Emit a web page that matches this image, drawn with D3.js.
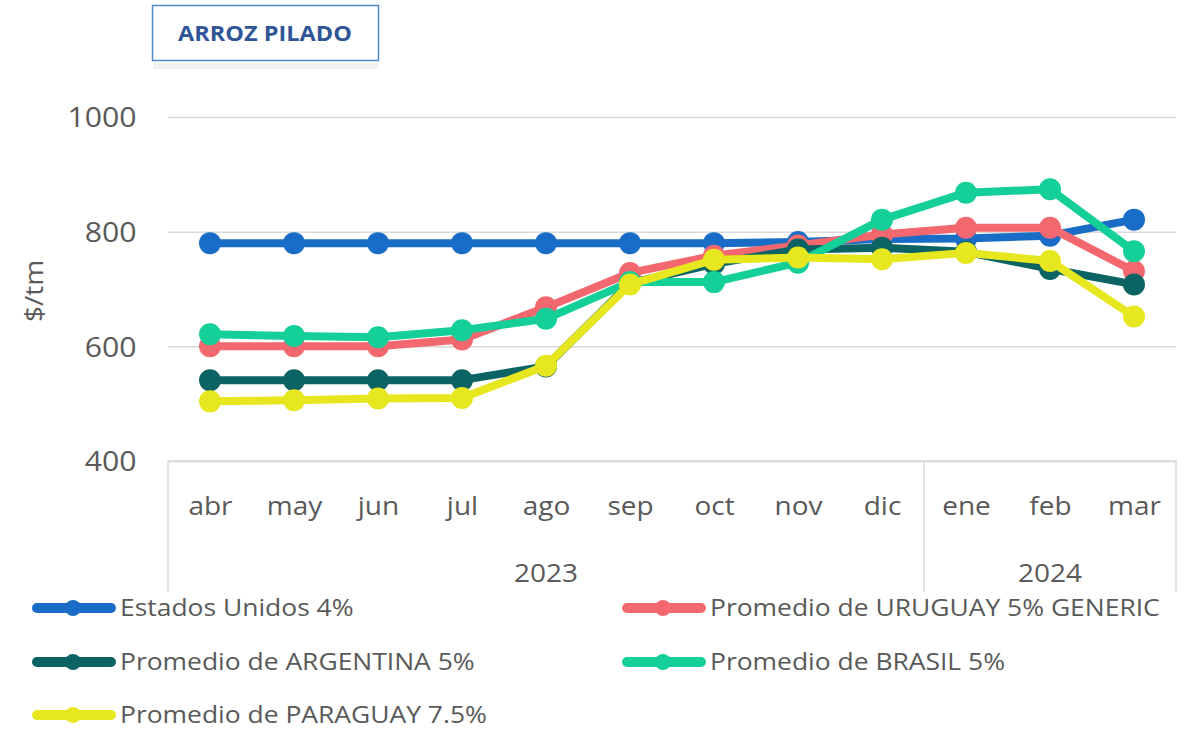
<!DOCTYPE html>
<html>
<head>
<meta charset="utf-8">
<script src="https://cdn.jsdelivr.net/npm/d3@7"></script>
<style>
  body { margin: 0; background: #fff; }
  text { font-family: "Open Sans", sans-serif; }
</style>
</head>
<body>
<div id="chart"></div>
<script>
// data
const months = ["abr", "may", "jun", "jul", "ago", "sep", "oct", "nov", "dic", "ene", "feb", "mar"];
const years = ["2023", "2024"];
const monthsPerYear = [9, 3];
const yTicks = [400, 600, 800, 1000];

const estadosUnidos = [780, 780, 780, 780, 780, 780, 780, 782, 787, 788, 793, 821];
const uruguay       = [600, 600, 600, 612, 668, 728, 758, 776, 795, 807, 807, 731];
const argentina     = [541, 541, 541, 541, 565, 710, 744, 769, 772, 765, 735, 708];
const brasil        = [621, 618, 616, 628, 648, 712, 712, 746, 821, 868, 874, 766];
const paraguay      = [504, 506, 509, 510, 566, 708, 751, 755, 752, 763, 749, 652];

const seriesNames = ["Estados Unidos 4%", "Promedio de URUGUAY 5% GENERIC", "Promedio de ARGENTINA 5%",
                     "Promedio de BRASIL 5%", "Promedio de PARAGUAY 7.5%"];
const seriesColors = ["#1a6dc6", "#f3686f", "#0c6363", "#14cf97", "#e7e71f"];

let series = [estadosUnidos, uruguay, argentina, brasil, paraguay].map((values, i) => ({
  name: seriesNames[i], color: seriesColors[i], values: values
}));

let width = 1196,
    height = 731,
    plotLeft = 168,
    plotRight = 1176,
    plotTop = 117,
    plotBottom = 461,
    catBottom = 592,
    textColor = "#595959",
    gridColor = "#d9d9d9",
    sx = 1.12; // the source text is a little wider than our fonts

let svg = d3.select("#chart").append("svg")
    .attr("width", width)
    .attr("height", height);

/* Scale */
let xScale = d3.scalePoint().domain(months).range([plotLeft, plotRight]).padding(0.5);
let yScale = d3.scaleLinear().domain([400, 1000]).range([plotBottom, plotTop]);

/* Title box */
svg.append("rect")
    .attr("x", 153).attr("y", 63).attr("width", 225).attr("height", 6)
    .attr("fill", "#f2f2f2");
svg.append("rect")
    .attr("x", 152.5).attr("y", 5.5).attr("width", 226).attr("height", 55)
    .attr("fill", "#fff")
    .attr("stroke", "#4f88c6")
    .attr("stroke-width", 1.5);
svg.append("text")
    .attr("transform", `translate(265,41) scale(${sx},1)`)
    .attr("text-anchor", "middle")
    .attr("font-size", 21)
    .attr("font-weight", "bold")
    .attr("fill", "#2f5597")
    .text("ARROZ PILADO");

/* Gridlines */
svg.append("g")
    .attr("class", "grid")
    .attr("transform", `translate(${plotLeft},0)`)
    .call(d3.axisLeft(yScale).tickValues(yTicks).tickSize(-(plotRight - plotLeft)).tickFormat(""))
    .call(g => g.select(".domain").remove())
    .call(g => g.selectAll("line").attr("stroke", gridColor).attr("stroke-width", 1.5));

/* Y axis labels */
svg.append("g")
    .attr("class", "y axis")
    .attr("transform", `translate(${plotLeft},0)`)
    .call(d3.axisLeft(yScale).tickValues(yTicks).tickFormat(d3.format("d")).tickSize(0).tickPadding(28))
    .call(g => g.select(".domain").remove())
    .call(g => g.selectAll("text")
        .attr("font-family", "Open Sans, sans-serif")
        .attr("font-size", 27)
        .attr("fill", textColor)
        .attr("dy", "0.36em")
        .attr("transform", `scale(${sx},1)`));

svg.append("text")
    .attr("transform", `translate(43,291) rotate(-90) scale(${sx},1)`)
    .attr("text-anchor", "middle")
    .attr("font-size", 25)
    .attr("fill", textColor)
    .text("$/tm");

/* Category axis: month row and year row */
svg.append("g")
    .attr("class", "x axis")
    .attr("transform", `translate(0,${plotBottom})`)
    .call(d3.axisBottom(xScale).tickSize(0).tickPadding(0))
    .call(g => g.select(".domain").remove())
    .call(g => g.selectAll("text")
        .attr("font-family", "Open Sans, sans-serif")
        .attr("font-size", 25)
        .attr("fill", textColor)
        .attr("dy", 0)
        .attr("y", 54)
        .attr("transform", `scale(${sx},1)`));

let bounds = [0];
monthsPerYear.forEach((n, i) => bounds.push(bounds[i] + n));
let step = xScale.step();
let cat = svg.append("g").attr("class", "cat-lines");
cat.append("line")
    .attr("x1", plotLeft).attr("x2", plotRight + 1)
    .attr("y1", plotBottom).attr("y2", plotBottom)
    .attr("stroke", gridColor).attr("stroke-width", 1.5);
bounds.forEach(b => {
  let x = plotLeft + b * step;
  cat.append("line")
      .attr("x1", x).attr("x2", x)
      .attr("y1", plotBottom).attr("y2", catBottom)
      .attr("stroke", gridColor).attr("stroke-width", 1.5);
});
years.forEach((yr, i) => {
  let cx = plotLeft + (bounds[i] + bounds[i + 1]) / 2 * step;
  svg.append("text")
      .attr("transform", `translate(${cx},582) scale(${sx},1)`)
      .attr("text-anchor", "middle")
      .attr("font-size", 25)
      .attr("fill", textColor)
      .text(yr);
});

/* Lines */
let line = d3.line()
    .x((d, i) => xScale(months[i]))
    .y(d => yScale(d));

let lines = svg.append("g").attr("class", "lines");
series.forEach(s => {
  let g = lines.append("g").attr("class", "line-group");
  g.append("path")
      .attr("d", line(s.values))
      .attr("fill", "none")
      .attr("stroke", s.color)
      .attr("stroke-width", 8)
      .attr("stroke-linejoin", "round");
  g.selectAll("circle")
      .data(s.values).enter()
      .append("circle")
      .attr("cx", (d, i) => xScale(months[i]))
      .attr("cy", d => yScale(d))
      .attr("r", 11)
      .attr("fill", s.color);
});

/* Legend */
let legendPos = [[33, 608], [623, 608], [33, 662], [623, 662], [33, 715]];
let legend = svg.append("g").attr("class", "legend");
series.forEach((s, i) => {
  let [lx, ly] = legendPos[i];
  let item = legend.append("g").attr("transform", `translate(${lx},${ly})`);
  item.append("line")
      .attr("x1", 4).attr("x2", 78)
      .attr("y1", 0).attr("y2", 0)
      .attr("stroke", s.color)
      .attr("stroke-width", 10)
      .attr("stroke-linecap", "round");
  item.append("circle")
      .attr("cx", 40).attr("cy", 0).attr("r", 8)
      .attr("fill", s.color);
  item.append("text")
      .attr("transform", `translate(87,8) scale(1.15,1)`)
      .attr("font-size", 23)
      .attr("fill", textColor)
      .text(s.name);
});
</script>
</body>
</html>
